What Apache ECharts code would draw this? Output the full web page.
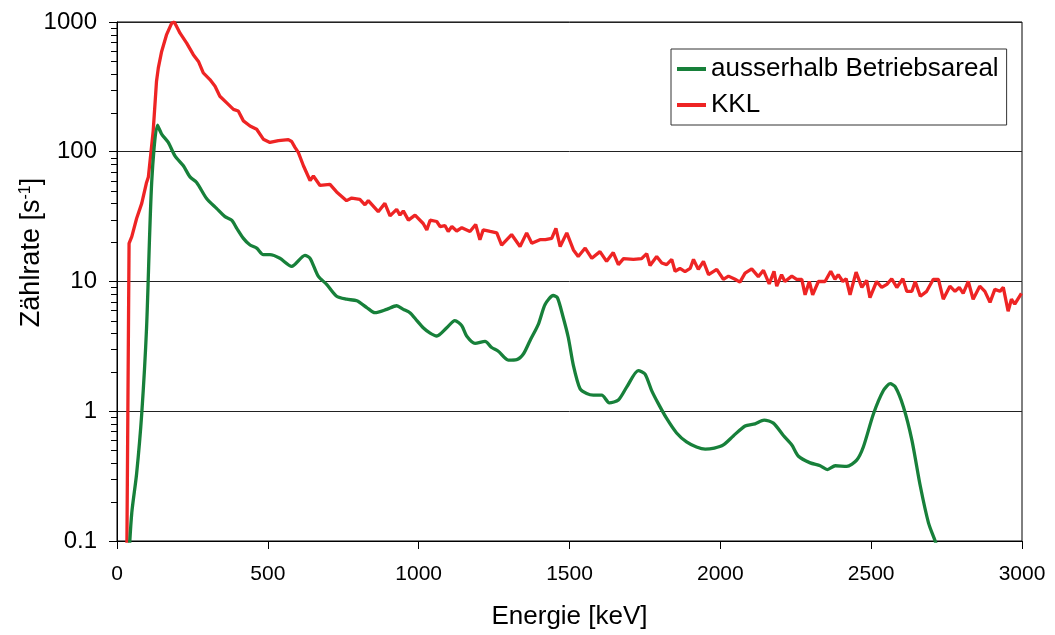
<!DOCTYPE html>
<html>
<head>
<meta charset="utf-8">
<script src="https://cdn.jsdelivr.net/npm/echarts@6/dist/echarts.min.js"></script>
<style>html,body{margin:0;padding:0;background:#fff;overflow:hidden}#c{width:1055px;height:635px}</style>
</head>
<body>
<div id="c"></div>
<script>
// ---- data ----
const seriesNames = ['ausserhalb Betriebsareal', 'KKL'];

const greenE = [40,49,65,82,98,115,134,148,170,192,220,242,264,297,330,358,380,397,419,441,463,485,507,540,579,623,640,667,695,728,761,795,828,855,894,927,949,971,994,1015,1038,1060,1093,1120,1143,1159,1187,1220,1242,1264,1297,1325,1347,1369,1397,1419,1446,1460,1479,1496,1513,1535,1557,1579,1607,1632,1662,1690,1728,1750,1772,1794,1822,1855,1888,1921,1950,1980,2010,2043,2082,2115,2145,2176,2209,2237,2259,2298,2331,2355,2381,2419,2452,2474,2508,2541,2563,2580,2607,2635,2663,2690,2712,2725];
const greenV = [0.08,0.165,0.33,0.96,4.4,58,160,137,118,93,78,64,58,43.6,36.6,31.6,29.7,25.7,21.5,19.1,18.1,16.1,16.1,15.1,13.1,15.9,15.1,11.0,9.5,7.7,7.3,7.1,6.3,5.75,6.1,6.5,6.1,5.75,5.0,4.4,4.0,3.8,4.4,5.0,4.55,3.8,3.33,3.45,3.1,2.9,2.48,2.5,2.76,3.5,4.7,6.65,7.8,7.5,5.3,3.7,2.25,1.49,1.37,1.33,1.33,1.16,1.22,1.54,2.06,1.94,1.45,1.15,0.88,0.68,0.58,0.53,0.51,0.52,0.55,0.645,0.77,0.80,0.855,0.81,0.65,0.55,0.45,0.40,0.38,0.355,0.38,0.376,0.42,0.53,0.96,1.45,1.63,1.54,1.08,0.60,0.264,0.138,0.1,0.08];

const redE = [32,40,49,65,82,98,104,120,131,137,148,164,181,190,209,231,253,270,286,308,325,341,363,386,402,419,441,463,485,507,535,568,579,590,601,618,623,640,651,673,706,728,761,778,805,822,833,866,888,905,927,938,949,966,988,1015,1027,1038,1060,1071,1087,1098,1110,1126,1143,1170,1189,1203,1214,1237,1259,1275,1308,1336,1358,1375,1402,1420,1441,1455,1469,1491,1513,1529,1552,1574,1601,1623,1645,1662,1679,1712,1739,1756,1767,1789,1806,1822,1839,1850,1866,1883,1900,1911,1927,1944,1961,1988,2010,2027,2049,2065,2082,2104,2126,2143,2162,2178,2187,2203,2214,2237,2253,2270,2281,2295,2306,2325,2347,2366,2380,2391,2406,2417,2430,2450,2469,2485,2496,2518,2535,2552,2568,2585,2605,2618,2635,2646,2663,2684,2706,2723,2739,2761,2778,2792,2805,2822,2838,2860,2877,2894,2910,2927,2938,2954,2965,2976,2998];
const redV = [0.05,19.7,22.2,30.6,40,58,64,145,350,443,593,795,977,1000,820,687,560,497,405,360,320,268,239,212,206,173,158,149,125,118,122,124,120,108,99,78,76,60,65,55,56,49,42,44,43,39,42,34.5,40,32,36,32.5,35,29.7,32.5,28,25,29.7,29,26.5,27,24.3,26.5,24.5,26,24.3,27.5,21,25,24.3,23.7,19.1,23,18.6,23.7,19.7,21,21,21.5,25.7,18.6,23.7,17.5,15.6,18.1,15.1,17,14.3,16.7,13.5,15,14.8,15,16.4,13.3,15.6,13.9,13.5,14.8,12,12.6,11.9,12.6,14.8,12.4,14.3,11.3,12.4,10.4,11,10.4,9.9,11.6,12.5,10.9,12.2,9.6,12,9.2,11.3,10,11,10.4,10.4,7.9,10,7.9,10,10,12,10.4,11.3,10,10.5,7.9,11.8,9,10.2,7.5,10,9,9.5,10.5,9,10.5,8.4,8.4,10,7.7,8.4,10.4,10.4,7.3,9.2,8.4,9,8.1,10,7.3,9.2,8.4,6.9,8.7,8.4,9,5.9,7.3,6.7,8.1];

const xTicks = [0,500,1000,1500,2000,2500,3000];
const yDecades = [0.1,1,10,100,1000];
const minorMultipliers = [2,3,4,5,6,7,8,9];

// ---- build ----
const zip = (a, b) => a.map((v, i) => [v, b[i]]);
const minorTickValues = [];
yDecades.slice(0, -1).forEach(d => minorMultipliers.forEach(m => minorTickValues.push([0, +(d * m).toPrecision(3)])));

const chart = echarts.init(document.getElementById('c'), null, {renderer: 'canvas'});
const FONT = "'Liberation Sans', Arial, sans-serif";

chart.setOption({
  animation: false,
  backgroundColor: '#fff',
  textStyle: {fontFamily: FONT, color: '#000'},
  grid: {left: 117, right: 33, top: 22, bottom: 88, show: true, borderColor: '#000', borderWidth: 1},
  legend: {
    data: seriesNames,
    orient: 'vertical',
    left: 671, top: 49,
    padding: [7, 8, 7, 6],
    itemGap: 10,
    itemWidth: 29, itemHeight: 4,
    icon: 'rect',
    borderColor: '#333', borderWidth: 1,
    backgroundColor: '#fff',
    textStyle: {fontFamily: FONT, fontSize: 26, color: '#000'}
  },
  xAxis: {
    type: 'value', min: 0, max: 3000, interval: 500,
    name: 'Energie [keV]', nameLocation: 'middle', nameGap: 63, nameMoveOverlap: false,
    nameTextStyle: {fontFamily: FONT, fontSize: 26, color: '#000'},
    axisLine: {lineStyle: {color: '#000', width: 1}},
    axisTick: {show: true, inside: false, length: 8, lineStyle: {color: '#000'}},
    axisLabel: {fontFamily: "'Liberation Sans Narrow', " + FONT, fontSize: 21, color: '#000', margin: 23,
      formatter: v => xTicks.includes(v) ? String(v) : ''},
    splitLine: {show: false}
  },
  yAxis: {
    type: 'log', logBase: 10, min: 0.1, max: 1000,
    name: '{a|Zählrate [s}{s|-1}{a|]}', nameLocation: 'middle', nameGap: 72, nameMoveOverlap: false,
    nameRotate: 90,
    nameTextStyle: {fontFamily: FONT, fontSize: 27, color: '#000', padding: [0, 0, 0, 58],
      rich: {a: {fontFamily: FONT, fontSize: 27, color: '#000'}, s: {fontFamily: FONT, fontSize: 16, color: '#000', verticalAlign: 'top', padding: [0, 0, 11, 0]}}},
    axisLine: {show: true, lineStyle: {color: '#000', width: 1}},
    axisTick: {show: true, inside: false, length: 8, lineStyle: {color: '#000'}},
    axisLabel: {fontFamily: FONT, fontSize: 24, color: '#000', margin: 20,
      formatter: v => String(+(+v).toPrecision(3))},
    splitLine: {show: true, lineStyle: {color: '#222', width: 1}},
    minorTick: {show: false}
  },
  series: [
    {
      name: seriesNames[0], type: 'line', data: zip(greenE, greenV),
      showSymbol: false, symbol: 'none', smooth: 0.25, clip: true,
      lineStyle: {color: '#17803a', width: 3.3}, itemStyle: {color: '#17803a'}, z: 3
    },
    {
      name: seriesNames[1], type: 'line', data: zip(redE, redV),
      showSymbol: false, symbol: 'none', smooth: false, clip: true,
      lineStyle: {color: '#ee2424', width: 3.3}, itemStyle: {color: '#ee2424'}, z: 2
    },
    {
      name: 'minorTicks', type: 'custom', data: minorTickValues, clip: false, silent: true, z: 5,
      renderItem: (params, api) => {
        const p = api.coord([0, api.value(1)]);
        const y = Math.round(p[1]) + 0.5;
        return {type: 'line', shape: {x1: p[0] - 6, y1: y, x2: p[0], y2: y}, style: {stroke: '#000', lineWidth: 1}};
      }
    }
  ]
});
</script>
</body>
</html>
